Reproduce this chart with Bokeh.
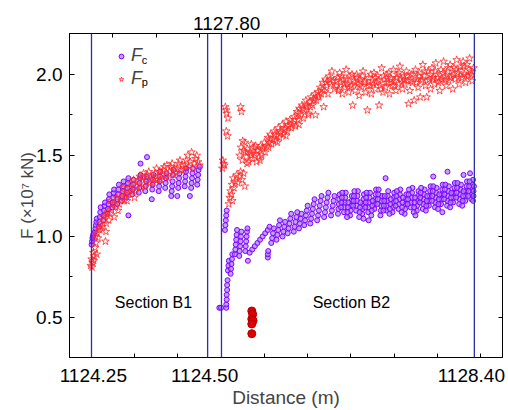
from bokeh.plotting import figure
from bokeh.models import (LinearAxis, FixedTicker, Span, Label, Legend, LegendItem, Range1d,
                          PrintfTickFormatter)
from bokeh.embed import file_html
from bokeh.resources import INLINE

# ---------------- data (x: position along the plotted distance axis, 0-100) ----------------
bottom_label_pos = [5.5, 31.2, 92.8]
bottom_labels = ["1124.25", "1124.50", "1128.40"]
top_label_pos = [36.3]
top_labels = ["1127.80"]
section_bounds = [5.08, 31.9, 35.1, 93.5]
y_ticks = [0.5, 1.0, 1.5, 2.0]

# Fc, section B1
fc_b1_x = [5.1, 5.2, 5.3, 5.4, 5.5, 5.6, 5.9, 6.0, 6.1, 6.2, 6.3, 6.8, 6.9, 7.0, 7.1, 7.2,
           7.8, 7.9, 8.0, 8.1, 8.2, 8.8, 8.9, 9.0, 9.1, 9.2, 9.9, 10.0, 10.1, 10.2, 10.3,
           11.0, 11.1, 11.2, 11.3, 11.4, 12.1, 12.2, 12.3, 12.4, 12.5, 13.6,
           13.2, 13.3, 13.4, 13.5, 13.6, 14.5, 14.6, 14.7, 14.8, 16.4, 17.9,
           16.0, 16.1, 16.2, 16.3, 16.4, 19.0, 17.5, 17.6, 17.7, 17.8, 19.1, 19.2, 19.3, 19.4,
           20.6, 20.7, 20.8, 20.9, 21.0, 22.1, 22.2, 22.3, 22.4, 23.6, 23.7, 23.8, 23.9, 24.0,
           23.5, 24.9, 25.1, 25.2, 25.3, 25.4, 26.6, 26.7, 26.8, 26.9, 27.0, 27.8,
           28.1, 28.2, 28.3, 28.4, 28.5, 29.5, 29.6, 29.7, 29.8, 30.1]
fc_b1_y = [0.95, 0.97, 0.99, 1.00, 1.01, 1.02, 1.03, 1.05, 1.07, 1.09, 1.11, 1.06, 1.09, 1.12, 1.15, 1.18,
           1.10, 1.13, 1.16, 1.19, 1.21, 1.14, 1.17, 1.20, 1.23, 1.26, 1.18, 1.21, 1.24, 1.27, 1.29,
           1.20, 1.23, 1.26, 1.29, 1.32, 1.22, 1.25, 1.28, 1.31, 1.34, 1.13,
           1.24, 1.27, 1.30, 1.33, 1.36, 1.26, 1.29, 1.32, 1.35, 1.45, 1.49,
           1.27, 1.30, 1.33, 1.36, 1.38, 1.23, 1.28, 1.31, 1.34, 1.37, 1.29, 1.32, 1.35, 1.38,
           1.28, 1.31, 1.34, 1.37, 1.40, 1.30, 1.33, 1.36, 1.39, 1.28, 1.31, 1.34, 1.38, 1.41,
           1.25, 1.25, 1.30, 1.33, 1.36, 1.39, 1.31, 1.34, 1.37, 1.40, 1.42, 1.25,
           1.30, 1.33, 1.36, 1.39, 1.42, 1.32, 1.35, 1.38, 1.41, 1.43]

# Fp, section B1
fp_b1_x = [4.9, 5.1, 5.3, 5.5, 5.7, 5.9, 6.1, 5.2, 5.6, 6.3,
           6.0, 6.4, 6.8, 7.2, 6.6, 7.0,
           7.6, 7.9, 8.2, 8.5, 8.8, 7.8, 8.4, 8.3,
           9.1, 9.4, 9.7, 10.0, 10.3, 10.6, 9.5, 10.9,
           11.2, 11.5, 11.8, 12.1, 12.4, 12.7, 13.0,
           13.3, 13.6, 13.9, 14.2, 14.5, 14.8, 15.0,
           15.3, 15.6, 15.9, 16.2, 16.5, 16.8, 17.1,
           17.4, 17.7, 18.0, 18.3, 18.6, 18.9,
           19.2, 19.5, 19.8, 20.1, 20.4, 20.7,
           21.0, 21.3, 21.6, 21.9, 22.2, 22.5,
           22.8, 23.1, 23.4, 23.7, 24.0, 24.3,
           24.6, 24.9, 25.2, 25.5, 25.8, 26.1,
           26.4, 26.7, 27.0, 27.3, 27.6, 27.9, 28.2,
           28.5, 28.8, 29.1, 29.4, 29.7, 30.0]
fp_b1_y = [0.82, 0.86, 0.84, 0.90, 0.88, 0.93, 0.96, 0.81, 0.85, 0.89,
           1.00, 1.02, 1.05, 1.08, 0.99, 1.04,
           1.06, 1.10, 1.13, 1.08, 1.15, 1.12, 1.03, 0.97,
           1.10, 1.14, 1.17, 1.20, 1.12, 1.18, 1.22, 1.24,
           1.16, 1.20, 1.24, 1.27, 1.30, 1.22, 1.26,
           1.22, 1.26, 1.30, 1.33, 1.28, 1.35, 1.24,
           1.28, 1.31, 1.34, 1.37, 1.30, 1.36, 1.39,
           1.31, 1.35, 1.38, 1.40, 1.33, 1.37,
           1.33, 1.36, 1.39, 1.42, 1.35, 1.40,
           1.35, 1.38, 1.41, 1.43, 1.37, 1.44,
           1.36, 1.40, 1.43, 1.45, 1.38, 1.42,
           1.39, 1.42, 1.45, 1.47, 1.41, 1.44,
           1.41, 1.44, 1.47, 1.50, 1.43, 1.46, 1.52,
           1.42, 1.45, 1.48, 1.50, 1.46, 1.44]

# Fc, section B2
fc_b2_x = [34.6, 35.0, 36.2, 36.2, 36.3, 36.3, 36.4, 36.4, 36.5, 36.6, 36.7, 36.8,
           35.9, 36.0, 36.1, 36.2, 36.3,
           37.2, 37.3, 37.4, 37.5, 37.6,
           38.2, 38.3, 38.4, 38.5, 38.6, 38.7,
           39.2, 39.3, 39.4, 39.5, 39.6, 39.7,
           40.6, 40.7, 40.8, 40.9, 41.0, 41.1, 41.2,
           41.6, 42.2, 42.8, 43.4, 44.0, 44.6, 45.2, 45.8, 46.2,
           45.8, 45.8, 45.9,
           46.6, 46.8, 47.0, 47.2, 47.8, 48.0, 48.2, 48.4, 48.6, 49.2, 49.4, 49.6, 49.8,
           50.4, 50.6, 50.8, 51.0, 51.2, 51.8, 52.0, 52.2, 52.4, 52.6, 53.0, 53.2, 53.4, 53.6,
           54.2, 54.4, 54.6, 54.8, 55.0, 55.6, 55.8, 56.0, 56.2, 56.4, 56.6,
           57.2, 57.4, 57.6, 57.8, 58.0, 58.2, 58.8, 59.0, 59.2, 59.4, 59.6, 59.8,
           60.4, 60.6, 60.8, 61.0, 61.2,
           62.0, 62.1, 62.2, 62.3, 62.4, 63.4, 63.5, 63.6, 63.7, 63.8,
           64.8, 64.9, 65.0, 65.1, 65.2, 66.2, 66.3, 66.4, 66.5, 66.6,
           67.6, 67.7, 67.8, 67.9, 68.0, 69.0, 69.1, 69.2, 69.3, 69.4,
           70.4, 70.5, 70.6, 70.7, 70.8, 71.8, 71.9, 72.0, 72.1, 72.2,
           73.2, 73.3, 73.4, 73.5, 73.6, 74.6, 74.7, 74.8, 74.9, 75.0,
           76.0, 76.1, 76.2, 76.3, 76.4, 77.4, 77.5, 77.6, 77.7, 77.8,
           78.8, 78.9, 79.0, 79.1, 79.2, 80.2, 80.3, 80.4, 80.5, 80.6,
           81.6, 81.7, 81.8, 81.9, 82.0, 83.0, 83.1, 83.2, 83.3, 83.4,
           84.4, 84.5, 84.6, 84.7, 84.8, 85.8, 85.9, 86.0, 86.1, 86.2,
           87.2, 87.3, 87.4, 87.5, 87.6, 88.6, 88.7, 88.8, 88.9, 89.0,
           90.0, 90.1, 90.2, 90.3, 90.4, 91.4, 91.5, 91.6, 91.7, 91.8,
           92.8, 92.9, 93.0, 93.1, 93.2,
           62.7, 62.8, 62.9, 63.0, 64.1, 64.2, 64.3, 64.4, 65.5, 65.6, 65.7, 65.8,
           66.9, 67.0, 67.1, 67.2, 68.3, 68.4, 68.5, 68.6, 69.7, 69.8, 69.9, 70.0,
           71.1, 71.2, 71.3, 71.4, 72.5, 72.6, 72.7, 72.8, 73.9, 74.0, 74.1, 74.2,
           75.3, 75.4, 75.5, 75.6, 76.7, 76.8, 76.9, 77.0, 78.1, 78.2, 78.3, 78.4,
           79.5, 79.6, 79.7, 79.8, 80.9, 81.0, 81.1, 81.2, 82.3, 82.4, 82.5, 82.6,
           83.7, 83.8, 83.9, 84.0, 85.1, 85.2, 85.3, 85.4, 86.5, 86.6, 86.7, 86.8,
           87.9, 88.0, 88.1, 88.2, 89.3, 89.4, 89.5, 89.6, 90.7, 90.8, 90.9, 91.0,
           92.1, 92.2, 92.3, 92.4, 93.2, 93.3, 93.3, 93.4,
           67.9, 69.1, 79.9, 86.1, 87.3, 73.0, 84.0, 91.0, 92.5]
fc_b2_y = [0.56, 0.56, 0.56, 0.58, 0.61, 0.64, 0.67, 0.70, 0.73, 0.79, 0.82, 0.85,
           1.04, 1.07, 1.10, 1.13, 1.16,
           0.77, 0.80, 0.83, 0.86, 0.89,
           0.89, 0.92, 0.95, 0.98, 1.01, 1.04,
           0.88, 0.91, 0.94, 0.97, 1.00, 1.03,
           0.91, 0.94, 0.97, 1.00, 1.03, 1.05, 0.85,
           0.90, 0.92, 0.94, 0.96, 0.98, 1.00, 1.02, 1.04, 1.06,
           0.87, 0.89, 0.91,
           0.96, 0.99, 1.02, 1.05, 0.98, 1.01, 1.04, 1.07, 1.10, 1.00, 1.03, 1.06, 1.09,
           1.02, 1.05, 1.08, 1.11, 1.14, 1.03, 1.06, 1.09, 1.12, 1.15, 1.05, 1.08, 1.11, 1.14,
           1.07, 1.10, 1.13, 1.16, 1.19, 1.08, 1.11, 1.14, 1.17, 1.20, 1.23,
           1.10, 1.13, 1.16, 1.19, 1.22, 1.25, 1.12, 1.15, 1.18, 1.21, 1.24, 1.27,
           1.13, 1.16, 1.19, 1.22, 1.25,
           1.14, 1.17, 1.20, 1.23, 1.26, 1.15, 1.18, 1.21, 1.24, 1.27,
           1.13, 1.16, 1.19, 1.22, 1.25, 1.16, 1.19, 1.22, 1.25, 1.28,
           1.14, 1.17, 1.20, 1.23, 1.26, 1.15, 1.18, 1.21, 1.24, 1.27,
           1.17, 1.20, 1.23, 1.26, 1.29, 1.13, 1.16, 1.19, 1.22, 1.25,
           1.16, 1.19, 1.22, 1.25, 1.28, 1.15, 1.18, 1.21, 1.24, 1.27,
           1.17, 1.20, 1.23, 1.26, 1.29, 1.14, 1.17, 1.20, 1.23, 1.26,
           1.18, 1.21, 1.24, 1.27, 1.30, 1.16, 1.19, 1.22, 1.25, 1.28,
           1.17, 1.20, 1.23, 1.26, 1.29, 1.19, 1.22, 1.25, 1.28, 1.31,
           1.18, 1.21, 1.24, 1.27, 1.30, 1.20, 1.23, 1.26, 1.29, 1.32,
           1.19, 1.22, 1.25, 1.28, 1.31, 1.21, 1.24, 1.27, 1.30, 1.33,
           1.20, 1.23, 1.26, 1.29, 1.32, 1.22, 1.25, 1.28, 1.31, 1.34,
           1.23, 1.26, 1.29, 1.32, 1.35,
           1.18, 1.21, 1.24, 1.27, 1.12, 1.15, 1.18, 1.21, 1.19, 1.22, 1.25, 1.28,
           1.12, 1.15, 1.18, 1.21, 1.18, 1.21, 1.24, 1.27, 1.13, 1.16, 1.19, 1.22,
           1.20, 1.23, 1.26, 1.29, 1.16, 1.19, 1.22, 1.25, 1.14, 1.17, 1.20, 1.23,
           1.19, 1.22, 1.25, 1.28, 1.15, 1.18, 1.21, 1.24, 1.20, 1.23, 1.26, 1.29,
           1.15, 1.18, 1.21, 1.24, 1.21, 1.24, 1.27, 1.30, 1.16, 1.19, 1.22, 1.25,
           1.22, 1.25, 1.28, 1.31, 1.17, 1.20, 1.23, 1.26, 1.23, 1.26, 1.29, 1.32,
           1.18, 1.21, 1.24, 1.27, 1.24, 1.27, 1.30, 1.33, 1.19, 1.22, 1.25, 1.28,
           1.25, 1.28, 1.31, 1.34, 1.22, 1.25, 1.28, 1.31,
           1.11, 1.10, 1.13, 1.15, 1.40, 1.36, 1.37, 1.38, 1.39]

# Fp, section B2
fp_b2_x = [35.3, 35.6, 35.4, 35.8, 36.0, 36.3, 36.6, 36.2, 39.5, 39.7, 36.2, 36.5,
           36.8, 37.0, 37.2, 37.5, 37.8, 37.4, 38.0, 38.3, 38.6, 38.9, 39.2, 39.5, 39.8, 40.2, 40.5, 37.6,
           39.3, 39.6, 39.9, 40.2, 40.5, 40.8, 41.1, 41.4, 41.7, 42.0, 42.3, 42.6, 42.9,
           43.2, 43.5, 43.8, 44.1, 44.4, 44.7, 45.0, 40.0, 41.0, 42.0, 43.0, 44.0, 45.2,
           45.5, 45.8, 46.1, 46.4, 46.7, 47.0, 47.3, 47.6, 47.9, 48.2, 48.5, 48.8,
           49.1, 49.4, 49.7, 50.0, 50.3, 50.6, 50.9, 51.2, 46.0, 48.0, 50.0,
           51.6, 51.9, 52.2, 52.5, 52.8, 53.1, 53.4, 53.7, 54.0, 54.3, 54.6, 54.9,
           55.2, 55.5, 55.8, 56.1, 56.4, 56.7, 53.0, 55.2, 56.8,
           57.0, 57.3, 57.6, 57.9, 58.2, 58.5, 58.8, 59.1, 59.4, 59.7, 60.0, 60.3,
           60.6, 60.9, 61.2, 58.7,
           61.5, 61.8, 62.1, 62.4, 62.7, 63.0, 63.3, 63.6, 63.9, 64.2, 64.5, 64.8,
           65.1, 65.4, 65.7, 66.0, 66.3, 66.6, 66.9, 67.2, 67.5, 67.8, 68.1, 68.4,
           68.8, 69.1, 69.4, 69.7, 70.0, 70.3, 70.6, 70.9, 71.2, 71.5, 71.8, 72.1,
           72.4, 72.7, 73.0, 73.3, 73.6, 73.9, 74.2, 74.5, 74.8, 75.1, 75.4, 75.7,
           76.0, 76.3, 76.6, 76.9, 77.2, 77.5, 77.8, 78.1, 78.3, 78.6, 78.9, 79.2,
           79.6, 79.9, 80.2, 80.5, 80.8, 81.0, 81.3, 81.6, 81.9, 82.2, 82.5, 82.8,
           83.1, 83.4, 83.7, 84.0, 84.3, 84.6, 84.9, 85.2, 85.5, 85.8, 86.1, 86.4,
           86.7, 87.0, 87.3, 87.6, 87.9, 88.2, 88.5, 88.8, 89.1, 89.4, 89.7, 90.0,
           90.3, 90.6, 90.9, 91.2, 91.5, 91.8, 92.1, 92.4, 92.7, 93.0, 93.3]
fp_b2_y = [1.42, 1.45, 1.47, 1.44, 1.80, 1.76, 1.73, 1.78, 1.80, 1.77, 1.65, 1.62,
           1.20, 1.24, 1.28, 1.32, 1.36, 1.26, 1.30, 1.34, 1.38, 1.33, 1.37, 1.40, 1.35, 1.39, 1.31, 1.22,
           1.50, 1.55, 1.47, 1.53, 1.58, 1.49, 1.54, 1.46, 1.52, 1.57, 1.48, 1.55, 1.51,
           1.46, 1.53, 1.49, 1.56, 1.50, 1.54, 1.58, 1.59, 1.45, 1.51, 1.56, 1.47, 1.52,
           1.56, 1.61, 1.58, 1.63, 1.57, 1.60, 1.65, 1.59, 1.62, 1.67, 1.61, 1.64,
           1.69, 1.63, 1.66, 1.71, 1.65, 1.68, 1.72, 1.67, 1.55, 1.58, 1.62,
           1.70, 1.74, 1.68, 1.77, 1.72, 1.79, 1.75, 1.81, 1.73, 1.78, 1.84, 1.80,
           1.76, 1.83, 1.86, 1.81, 1.85, 1.88, 1.69, 1.75, 1.75,
           1.84, 1.89, 1.86, 1.92, 1.88, 1.95, 1.90, 1.97, 1.93, 1.88, 1.99, 1.94,
           2.02, 1.96, 1.91, 1.80,
           1.93, 1.98, 1.90, 2.01, 1.95, 1.88, 1.97, 1.92, 2.03, 1.94, 1.89, 1.99,
           1.93, 1.81, 1.96, 1.90, 2.00, 1.94, 1.87, 1.97, 1.92, 2.02, 1.95, 1.89,
           1.78, 1.98, 1.93, 1.88, 1.96, 2.01, 1.91, 1.95, 1.99, 1.81, 1.93, 2.04,
           1.89, 1.97, 1.92, 2.00, 1.95, 1.88, 1.98, 1.93, 2.03, 1.96, 1.90, 2.00,
           1.94, 2.05, 1.97, 1.91, 1.99, 1.94, 2.02, 1.96, 1.82, 1.90, 2.00, 1.95,
           1.84, 2.03, 1.97, 1.92, 2.01, 1.86, 1.96, 2.06, 1.99, 1.93, 1.86, 2.02,
           1.97, 1.91, 2.04, 1.98, 1.94, 2.07, 2.00, 1.95, 1.90, 2.03, 1.97, 2.08,
           1.99, 1.93, 2.02, 1.96, 2.06, 1.99, 1.91, 2.04, 1.97, 2.09, 2.01, 1.94,
           2.05, 1.98, 2.08, 2.00, 1.95, 2.06, 1.99, 2.10, 2.02, 1.96, 2.04]

# Fp, section B2 (additional readings inside the dense band)
fp_b2_x2 = [40.6, 41.9, 43.3, 44.6, 46.3, 47.4, 48.7, 49.9, 51.1, 52.0, 52.9, 53.8, 54.7, 55.6,
            56.5, 57.5, 58.4, 59.3, 60.2,
            61.65, 62.25, 62.85, 63.45, 64.05, 64.65, 65.25, 65.85, 66.45, 67.05,
            67.65, 68.25, 68.95, 69.55, 70.15, 70.75, 71.35, 71.95, 72.55, 73.15,
            73.75, 74.35, 74.95, 75.55, 76.15, 76.75, 77.35, 77.95, 78.75, 79.35,
            80.05, 80.65, 81.45, 82.05, 82.65, 83.25, 83.85, 84.45, 85.05, 85.65,
            86.25, 86.85, 87.45, 88.05, 88.65, 89.25, 89.85, 90.45, 91.05, 91.65,
            92.25, 92.85]
fp_b2_y2 = [1.52, 1.50, 1.53, 1.55, 1.60, 1.63, 1.65, 1.67, 1.69, 1.72, 1.76, 1.79, 1.81, 1.80,
            1.84, 1.87, 1.91, 1.95, 1.97,
            1.96, 1.91, 1.99, 1.94, 1.97, 1.92, 2.00, 1.95, 1.98, 1.93,
            1.99, 1.96, 1.93, 2.00, 1.94, 1.98, 1.96, 1.91, 1.99, 1.95,
            2.01, 1.97, 1.93, 1.98, 2.01, 1.95, 1.97, 1.99, 1.96, 2.00,
            1.95, 1.99, 1.97, 2.02, 1.96, 2.00, 1.97, 2.02, 1.98, 1.96,
            2.01, 1.97, 2.04, 1.98, 2.00, 2.03, 1.98, 2.02, 2.05, 1.99,
            2.03, 2.00]

# isolated red points
dot_x = [42.1, 42.3, 42.1, 42.4, 42.1, 42.1]
dot_y = [0.54, 0.52, 0.49, 0.48, 0.46, 0.40]

FONT = "Liberation Sans"

p = figure(width=508, height=410, output_backend="svg", toolbar_location=None,
           x_range=Range1d(0, 100), y_range=Range1d(0.253, 2.253),
           min_border_left=69, min_border_right=6, min_border_top=33, min_border_bottom=53)
p.grid.visible = False
p.outline_line_color = "black"
p.background_fill_color = "white"
p.border_fill_color = "white"

# data
r_fc = p.scatter(fc_b1_x + fc_b2_x, fc_b1_y + fc_b2_y, marker="circle", size=5,
                 line_color="#7F00FF", fill_color="#A878FF", fill_alpha=0.7, line_width=1)
r_fp = p.scatter(fp_b1_x + fp_b2_x + fp_b2_x2, fp_b1_y + fp_b2_y + fp_b2_y2, marker="star", size=8,
                 line_color="#FF2828", fill_color=None, line_width=0.8)
p.scatter(dot_x, dot_y, marker="circle", size=8, fill_color="#E00000", line_color="#B00000")

for v in section_bounds:
    p.add_layout(Span(location=v, dimension="height", line_color="#2E2EA6", line_width=1.3))

# bottom axis
xa = p.xaxis[0]
xa.ticker = FixedTicker(ticks=bottom_label_pos, minor_ticks=[15, 25, 35, 45, 55, 65, 75, 85, 95])
xa.major_label_overrides = {k: v for k, v in zip(bottom_label_pos, bottom_labels)}
xa.axis_label = "Distance (m)"

# top axis
ta = LinearAxis(ticker=FixedTicker(ticks=top_label_pos, minor_ticks=[10, 20, 30, 40, 50, 60, 70, 80, 90]))
ta.major_label_overrides = {k: v for k, v in zip(top_label_pos, top_labels)}
p.add_layout(ta, "above")

for ax in [xa, ta]:
    ax.major_tick_in = 0
    ax.major_tick_out = 0
    ax.minor_tick_in = 4
    ax.minor_tick_out = 0
    ax.major_label_text_font = FONT
    ax.major_label_text_font_size = "19px"
    ax.major_label_text_color = "black"
    ax.axis_line_color = "black"
    ax.minor_tick_line_color = "black"
xa.major_label_standoff = 11
ta.major_label_standoff = 4
xa.axis_label_text_font = FONT
xa.axis_label_text_font_size = "19px"
xa.axis_label_text_font_style = "normal"
xa.axis_label_standoff = 2

# left axis
ya = p.yaxis[0]
ya.ticker = FixedTicker(ticks=y_ticks, minor_ticks=[0.25, 0.75, 1.25, 1.75, 2.25])
ya.formatter = PrintfTickFormatter(format="%.1f")
ya.major_tick_in = 5
ya.major_tick_out = 0
ya.minor_tick_in = 3
ya.minor_tick_out = 0
ya.major_label_text_font = FONT
ya.major_label_text_font_size = "19px"
ya.major_label_text_color = "black"
ya.major_label_standoff = 7
ya.axis_label = "F (×10⁷ kN)"
ya.axis_label_text_font = FONT
ya.axis_label_text_font_size = "17px"
ya.axis_label_text_font_style = "normal"
ya.axis_label_standoff = -4

# right axis: tick marks only
ra = LinearAxis(ticker=FixedTicker(ticks=[], minor_ticks=[0.25, 0.5, 0.75, 1.0, 1.25, 1.5, 1.75, 2.0, 2.25]))
ra.minor_tick_in = 4
ra.minor_tick_out = 0
ra.major_tick_in = 0
ra.major_tick_out = 0
ra.major_label_standoff = 0
p.add_layout(ra, "right")

for ax in [xa, ta, ya, ra]:
    ax.axis_line_color = "black"
    ax.major_tick_line_color = "black"
    ax.minor_tick_line_color = "black"

# section labels
p.add_layout(Label(x=19.4, y=0.593, text="Section B1", text_font=FONT, text_font_size="16px",
                   text_align="center", text_baseline="middle", text_color="black"))
p.add_layout(Label(x=65.1, y=0.593, text="Section B2", text_font=FONT, text_font_size="16px",
                   text_align="center", text_baseline="middle", text_color="black"))

# legend
legend = Legend(items=[LegendItem(label="F", renderers=[r_fc]), LegendItem(label="F", renderers=[r_fp])],
                location=(46, 268), label_text_font=FONT, label_text_font_size="18px",
                label_text_font_style="italic", glyph_width=12, glyph_height=20, label_height=20,
                label_standoff=4, spacing=2, padding=0, margin=0,
                border_line_alpha=0, background_fill_alpha=0)
p.add_layout(legend)
p.add_layout(Label(x=16.7, y=2.05, text="c", text_font=FONT, text_font_size="11px", text_color="black"))
p.add_layout(Label(x=16.7, y=1.917, text="p", text_font=FONT, text_font_size="11px", text_color="black"))

open("out.html", "w").write(file_html(p, INLINE))
